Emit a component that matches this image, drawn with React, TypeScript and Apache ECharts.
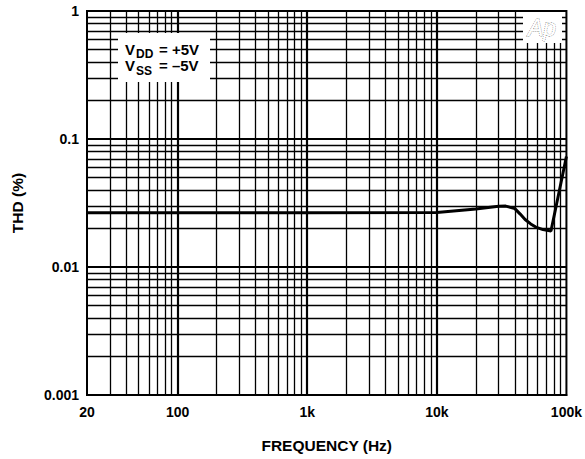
import React, { useEffect, useRef } from "react";
import * as echarts from "echarts";

// Curve: THD (%) vs frequency (Hz)
const freqHz = [20, 100, 1000, 10000, 20000, 30000, 34000, 40000, 44000, 48000, 53000, 58000, 66000, 76000, 100000];
const thdPct = [0.0265, 0.0265, 0.0265, 0.0266, 0.0284, 0.0298, 0.0299, 0.0286, 0.0259, 0.0235, 0.0217, 0.0205, 0.0196, 0.0191, 0.073];

// Tick labels
const xTickValues = [20, 100, 1000, 10000, 100000];
const xTickLabels = ["20", "100", "1k", "10k", "100k"];
const yTickValues = [0.001, 0.01, 0.1, 1];
const yTickLabels = ["0.001", "0.01", "0.1", "1"];

// Grid decades
const xDecades = [10, 100, 1000, 10000];
const yDecades = [0.001, 0.01, 0.1];
const minorMultiples = [2, 3, 4, 5, 6, 7, 8, 9];

const FONT = "'Liberation Sans', Arial, Helvetica, sans-serif";

function nearestLabel(v: number, values: number[], labels: string[]): string {
  let best = 0;
  let bestD = Infinity;
  values.forEach((t, i) => {
    const d = Math.abs(Math.log10(v) - Math.log10(t));
    if (d < bestD) {
      bestD = d;
      best = i;
    }
  });
  return bestD < 0.01 ? labels[best] : "";
}

export default function App() {
  const ref = useRef<HTMLDivElement>(null);

  useEffect(() => {
    if (!ref.current) return;
    const chart = echarts.init(ref.current, undefined, { renderer: "svg" });

    const xMin = xTickValues[0];
    const xMax = xTickValues[xTickValues.length - 1];
    const yMin = yTickValues[0];
    const yMax = yTickValues[yTickValues.length - 1];

    const xMinor = xDecades
      .flatMap((d) => minorMultiples.map((m) => d * m))
      .filter((v) => v > xMin && v < xMax);
    const xMajor = xTickValues.slice(1, -1);
    const yMinor = yDecades
      .flatMap((d) => minorMultiples.map((m) => +(d * m).toPrecision(6)))
      .filter((v) => v > yMin && v < yMax);
    const yMajor = yTickValues.slice(1, -1);

    const minorW = 1.3;
    const majorW = 2.2;
    const gridData: any[] = [
      ...xMinor.map((v) => ({ xAxis: v, lineStyle: { width: minorW } })),
      ...yMinor.map((v) => ({ yAxis: v, lineStyle: { width: minorW } })),
      ...xMajor.map((v) => ({ xAxis: v, lineStyle: { width: majorW } })),
      ...yMajor.map((v) => ({ yAxis: v, lineStyle: { width: majorW } })),
    ];

    const axisLabelBase = {
      color: "#000",
      fontWeight: "bold" as const,
      fontSize: 14,
      fontFamily: FONT,
    };

    chart.setOption({
      animation: false,
      backgroundColor: "#fff",
      grid: {
        left: 87,
        right: 18,
        top: 11,
        bottom: 64,
        show: true,
        borderColor: "#000",
        borderWidth: 2,
        backgroundColor: "#fff",
      },
      xAxis: {
        type: "log",
        logBase: 10,
        min: xMin,
        max: xMax,
        axisLine: { show: true, lineStyle: { color: "#000", width: 2 } },
        axisTick: { show: false },
        splitLine: { show: false },
        minorSplitLine: { show: false },
        axisLabel: {
          ...axisLabelBase,
          margin: 10,
          showMinLabel: true,
          showMaxLabel: true,
          formatter: (v: number) => nearestLabel(v, xTickValues, xTickLabels),
        },
        name: "FREQUENCY (Hz)",
        nameLocation: "middle",
        nameGap: 42,
        nameTextStyle: { color: "#000", fontWeight: "bold", fontSize: 15.5, fontFamily: FONT },
      },
      yAxis: {
        type: "log",
        logBase: 10,
        min: yMin,
        max: yMax,
        axisLine: { show: true, lineStyle: { color: "#000", width: 2 } },
        axisTick: { show: false },
        splitLine: { show: false },
        minorSplitLine: { show: false },
        axisLabel: {
          ...axisLabelBase,
          margin: 8,
          showMinLabel: true,
          showMaxLabel: true,
          formatter: (v: number) => nearestLabel(v, yTickValues, yTickLabels),
        },
        name: "THD (%)",
        nameLocation: "middle",
        nameGap: 62,
        nameTextStyle: { color: "#000", fontWeight: "bold", fontSize: 15.5, fontFamily: FONT },
      },
      series: [
        {
          type: "line",
          data: [],
          z: 1,
          silent: true,
          markLine: {
            silent: true,
            precision: 8,
            symbol: ["none", "none"],
            label: { show: false },
            lineStyle: { color: "#000", type: "solid", width: minorW },
            emphasis: { disabled: true },
            animation: false,
            data: gridData,
          },
        },
        {
          type: "line",
          z: 10,
          data: freqHz.map((f, i) => [f, thdPct[i]]),
          showSymbol: false,
          symbol: "none",
          lineStyle: { color: "#000", width: 3 },
          silent: true,
        },
      ],
      graphic: [
        {
          type: "group",
          z: 100,
          children: [
            { type: "rect", shape: { x: 118, y: 33, width: 92, height: 49 }, style: { fill: "#fff" }, z: 100 },
            { type: "text", x: 125, y: 49, style: { text: "V", font: `bold 15px ${FONT}`, fill: "#000", verticalAlign: "middle" }, z: 101 },
            { type: "text", x: 136, y: 54, style: { text: "DD", font: `bold 12px ${FONT}`, fill: "#000", verticalAlign: "middle" }, z: 101 },
            { type: "text", x: 159, y: 49, style: { text: "= +5V", font: `bold 15px ${FONT}`, fill: "#000", verticalAlign: "middle" }, z: 101 },
            { type: "text", x: 125, y: 65.5, style: { text: "V", font: `bold 15px ${FONT}`, fill: "#000", verticalAlign: "middle" }, z: 101 },
            { type: "text", x: 136, y: 70.5, style: { text: "SS", font: `bold 12px ${FONT}`, fill: "#000", verticalAlign: "middle" }, z: 101 },
            { type: "text", x: 159, y: 65.5, style: { text: "= \u20135V", font: `bold 15px ${FONT}`, fill: "#000", verticalAlign: "middle" }, z: 101 },
            { type: "rect", shape: { x: 523, y: 12, width: 39, height: 31 }, style: { fill: "#fff" }, z: 100 },
            {
              type: "text",
              x: 542,
              y: 28,
              style: {
                text: "Ap",
                font: `italic 23px ${FONT}`,
                fill: "#fff",
                stroke: "#555",
                lineWidth: 0.9,
                lineDash: [1, 1],
                align: "center",
                verticalAlign: "middle",
              },
              z: 101,
            },
          ],
        },
      ],
    });

    return () => chart.dispose();
  }, []);

  return (
    <div
      ref={ref}
      style={{ position: "fixed", left: 0, top: 0, width: 585, height: 459, background: "#fff" }}
    />
  );
}
